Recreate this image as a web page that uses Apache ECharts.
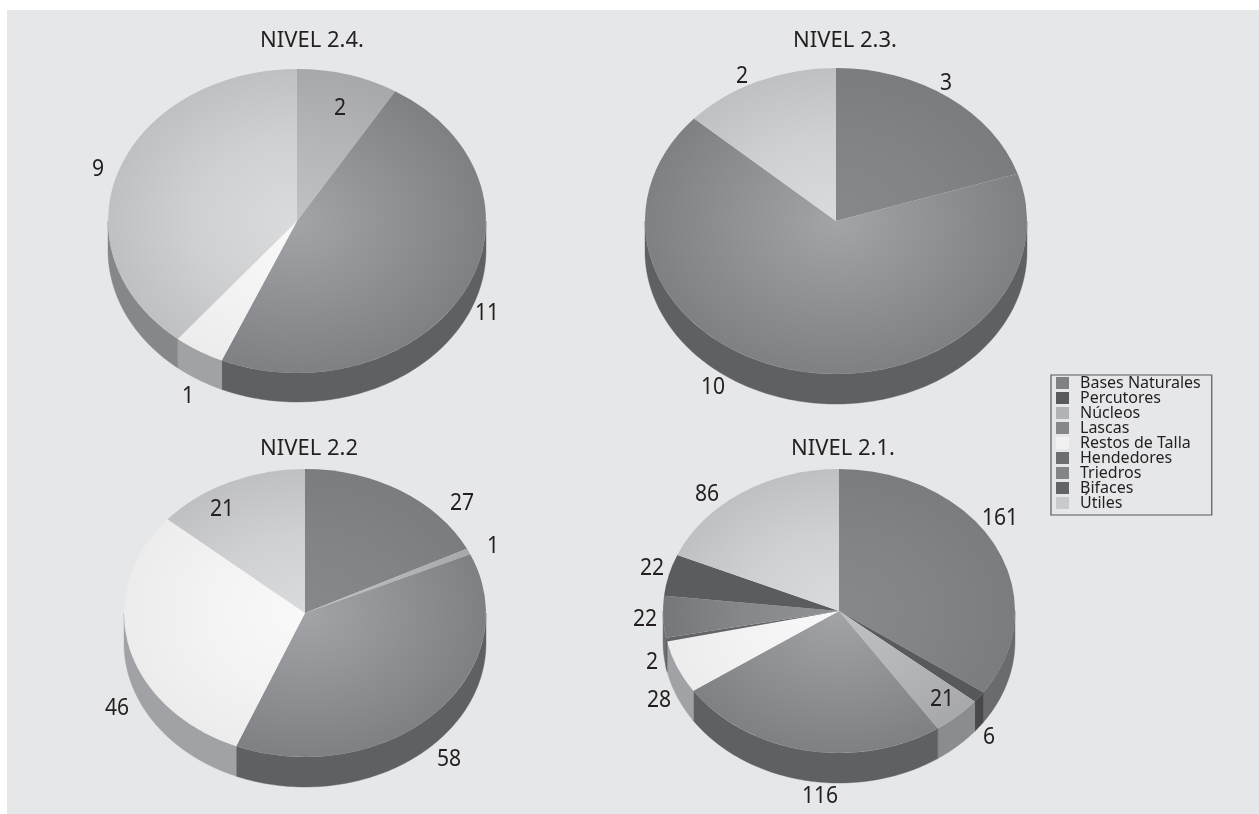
<!DOCTYPE html>
<html>
<head>
<meta charset="utf-8">
<title>Industria lítica por niveles</title>
<style>
  html, body { margin: 0; padding: 0; background: #ffffff; }
  #chart { width: 1259px; height: 814px; }
</style>
<script src="https://cdn.jsdelivr.net/npm/echarts@6/dist/echarts.min.js"></script>
</head>
<body>
<div id="chart"></div>
<script>
// Levels, in the same order as every value array below
const levels = ['NIVEL 2.4.', 'NIVEL 2.3.', 'NIVEL 2.2', 'NIVEL 2.1.'];

const categories = ['Bases Naturales', 'Percutores', 'Núcleos', 'Lascas', 'Restos de Talla',
                    'Hendedores', 'Triedros', 'Bifaces', 'Útiles'];

// Piece counts per category, one value per level
const basesNaturales = [0, 3, 27, 161];
const percutores     = [0, 0, 0, 6];
const nucleos        = [2, 0, 1, 21];
const lascas         = [11, 10, 58, 116];
const restosDeTalla  = [1, 0, 46, 28];
const hendedores     = [0, 0, 0, 2];
const triedros       = [0, 0, 0, 22];
const bifaces        = [0, 0, 0, 22];
const utiles         = [9, 2, 21, 86];

const seriesValues = [basesNaturales, percutores, nucleos, lascas, restosDeTalla,
                      hendedores, triedros, bifaces, utiles];

// Tilted disc geometry for each level
const discs = [
  { cx: 297, cy: 221, rx: 189, ry: 152, depth: 29, titleX: 312, titleY: 30 },
  { cx: 836, cy: 221, rx: 191, ry: 153, depth: 30, titleX: 845, titleY: 30 },
  { cx: 305, cy: 613, rx: 181, ry: 144, depth: 30, titleX: 309, titleY: 438 },
  { cx: 839, cy: 611, rx: 176, ry: 142, depth: 30, titleX: 843, titleY: 438 }
];

// Palette: legend swatch, top face centre / middle / rim, outer wall
const swatchColors = ['#808185', '#58595b', '#b1b2b5', '#86878a', '#f1f1f2', '#6d6e70', '#838487', '#626366', '#c9cacc'];
const faceCentre   = ['#87888c', '#5a5b5d', '#c0c1c4', '#a3a4a7', '#f9f9fa', '#636466', '#929396', '#5b5c5e', '#dadbdd'];
const faceMiddle   = ['#828387', '#585a5b', '#b4b5b8', '#8f9094', '#f3f3f4', '#636466', '#86878a', '#5b5c5e', '#cfd0d2'];
const faceRim      = ['#7b7c80', '#565759', '#a7a8ab', '#7f8084', '#ececed', '#636466', '#76777a', '#5b5c5e', '#bfc0c3'];
const wallColors   = ['#6a6b6e', '#48484a', '#8b8c8f', '#5f6062', '#a1a2a5', '#4f4f51', '#6e6f71', '#525254', '#86878a'];

// Where each count is written: per category, per level (null where nothing is drawn)
const labelAnchors = [
  [null, [946, 82], [462, 502], [1000, 517]],
  [null, null, null, [989, 736]],
  [[340, 107], null, [493, 545], [942, 698]],
  [[487, 312], [713, 386], [449, 758], [820, 795]],
  [[188, 395], null, [117, 707], [659, 699]],
  [null, null, null, [652, 661]],
  [null, null, null, [645, 618]],
  [null, null, null, [652, 567]],
  [[98, 168], [742, 75], [222, 508], [707, 493]]
];

const textColor = '#231f20';
const fontFamily = '"Noto Sans", sans-serif';

// Angular span of one slice, clockwise from 12 o'clock
function sliceSpan(categoryIndex, levelIndex) {
  let total = 0, before = 0;
  seriesValues.forEach(function (vals, i) {
    total += vals[levelIndex];
    if (i < categoryIndex) before += vals[levelIndex];
  });
  const value = seriesValues[categoryIndex][levelIndex];
  return [before / total * 2 * Math.PI, (before + value) / total * 2 * Math.PI];
}

// The visible front part of a slice's wall, as a closed outline
function wallOutline(disc, a0, a1) {
  const from = Math.max(a0, Math.PI / 2);
  const to = Math.min(a1, Math.PI * 1.5);
  if (to <= from) return null;
  const steps = Math.max(2, Math.ceil((to - from) / 0.02));
  const upper = [], lower = [];
  for (let i = 0; i <= steps; i++) {
    const a = from + (to - from) * i / steps;
    const x = disc.cx + disc.rx * Math.sin(a);
    const y = disc.cy - disc.ry * Math.cos(a);
    upper.push([x, y]);
    lower.unshift([x, y + disc.depth]);
  }
  return upper.concat(lower);
}

function renderSlice(params, api) {
  const value = api.value(0);
  if (!value) return null;
  const c = params.seriesIndex, l = params.dataIndex;
  const disc = discs[l];
  const span = sliceSpan(c, l);
  const children = [];

  const wall = wallOutline(disc, span[0], span[1]);
  if (wall) {
    children.push({
      type: 'polygon',
      shape: { points: wall },
      style: { fill: wallColors[c], stroke: wallColors[c], lineWidth: 0.4 }
    });
  }

  children.push({
    type: 'group',
    x: disc.cx,
    y: disc.cy,
    scaleY: disc.ry / disc.rx,
    children: [{
      type: 'sector',
      shape: {
        cx: 0, cy: 0, r: disc.rx, r0: 0,
        startAngle: span[0] - Math.PI / 2,
        endAngle: span[1] - Math.PI / 2,
        clockwise: true
      },
      style: {
        fill: {
          type: 'radial', x: 0, y: 0, r: disc.rx, global: true,
          colorStops: [
            { offset: 0, color: faceCentre[c] },
            { offset: 0.55, color: faceMiddle[c] },
            { offset: 1, color: faceRim[c] }
          ]
        }
      }
    }]
  });

  const anchor = labelAnchors[c][l];
  if (anchor) {
    children.push({
      type: 'text',
      x: anchor[0],
      y: anchor[1] + 1,
      scaleX: 0.88,
      z2: 100,
      style: {
        text: String(value),
        fill: textColor,
        font: '24px ' + fontFamily,
        align: 'center',
        verticalAlign: 'middle'
      }
    });
  }
  return { type: 'group', children: children };
}

const chart = echarts.init(document.getElementById('chart'), null, { renderer: 'canvas' });

chart.setOption({
  animation: false,
  color: swatchColors,
  backgroundColor: 'transparent',
  graphic: [{
    type: 'rect',
    z: -10,
    silent: true,
    shape: { x: 7, y: 10, width: 1252, height: 804 },
    style: { fill: '#e6e7e8' }
  }],
  title: levels.map(function (name, i) {
    return {
      text: name,
      left: discs[i].titleX,
      top: discs[i].titleY,
      textAlign: 'center',
      padding: 0,
      textStyle: { color: textColor, fontFamily: fontFamily, fontSize: 22, fontWeight: 'normal' }
    };
  }),
  legend: {
    orient: 'vertical',
    left: 1051,
    top: 375,
    padding: [0, 11, 4, 5],
    icon: 'rect',
    itemWidth: 13,
    itemHeight: 12,
    itemGap: -1,
    borderColor: '#58595b',
    borderWidth: 1.2,
    selectedMode: false,
    data: categories,
    textStyle: { color: textColor, fontFamily: fontFamily, fontSize: 16, lineHeight: 12, padding: [0, 0, 0, 6] }
  },
  series: categories.map(function (name, i) {
    return {
      type: 'custom',
      name: name,
      coordinateSystem: 'none',
      renderItem: renderSlice,
      silent: true,
      data: seriesValues[i].map(function (v) { return [v]; })
    };
  })
});
</script>
</body>
</html>
